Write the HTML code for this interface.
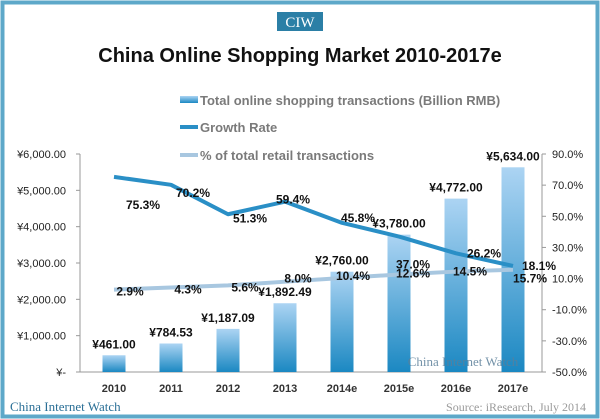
<!DOCTYPE html>
<html><head><meta charset="utf-8"><style>
body{margin:0;background:#fff;}
svg{display:block;font-family:"Liberation Sans",sans-serif;}
</style></head><body>
<svg id="chart" width="600" height="419" viewBox="0 0 600 419">
<defs><linearGradient id="bg" x1="0" y1="0" x2="0" y2="1"><stop offset="0" stop-color="#acd4f3"/><stop offset="1" stop-color="#1b88c2"/></linearGradient></defs>
<rect x="2.5" y="2.5" width="595" height="414" fill="none" stroke="#5ea8c9" stroke-width="4"/>
<rect x="277" y="12" width="46" height="19" fill="#2b7fa6"/>
<text x="300" y="27" text-anchor="middle" fill="#fff" font-family="Liberation Serif,serif" font-size="15">CIW</text>
<text x="300" y="62" text-anchor="middle" font-weight="bold" font-size="20" fill="#111">China Online Shopping Market 2010-2017e</text>
<g font-size="13" font-weight="bold" fill="#7a7a7a">
<rect x="180" y="96" width="18" height="7" fill="url(#bg)"/>
<text x="200" y="105">Total online shopping transactions (Billion RMB)</text>
<rect x="180" y="125" width="18" height="4" fill="#2a8fc6"/>
<text x="200" y="132">Growth Rate</text>
<rect x="180" y="153" width="18" height="4" fill="#a8c7e0"/>
<text x="200" y="160">% of total retail transactions</text>
</g>
<g id="plot"></g>
<text x="463" y="366" text-anchor="middle" font-family="Liberation Serif,serif" font-size="13" fill="#5b7f99" opacity="0.85">China Internet Watch</text>
<text x="10" y="411" font-family="Liberation Serif,serif" font-size="13" fill="#2a6f96">China Internet Watch</text>
<text x="586" y="411" text-anchor="end" font-family="Liberation Serif,serif" font-size="12" fill="#9a9a9a">Source: iResearch, July 2014</text>
</svg>
<script>
const categories=["2010","2011","2012","2013","2014e","2015e","2016e","2017e"];
const transactions=[461.00,784.53,1187.09,1892.49,2760.00,3780.00,4772.00,5634.00];
const transactionLabels=["¥461.00","¥784.53","¥1,187.09","¥1,892.49","¥2,760.00","¥3,780.00","¥4,772.00","¥5,634.00"];
const growth=[75.3,70.2,51.3,59.4,45.8,37.0,26.2,18.1];
const retailShare=[2.9,4.3,5.6,8.0,10.4,12.6,14.5,15.7];
const leftTicks=[0,1000,2000,3000,4000,5000,6000];
const leftTickLabels=["¥-","¥1,000.00","¥2,000.00","¥3,000.00","¥4,000.00","¥5,000.00","¥6,000.00"];
const rightTicks=[-50,-30,-10,10,30,50,70,90];

const NS="http://www.w3.org/2000/svg";
const plot=document.getElementById('plot');
const X0=80,X1=542,Y0=372,Y1=154;
function xC(i){return 114+i*57;}
function yL(v){return Y0-(v/6000)*(Y0-Y1);}
function yR(v){return Y0-((v+50)/140)*(Y0-Y1);}
function mk(tag,attrs,parent){const e=document.createElementNS(NS,tag);for(const k in attrs)e.setAttribute(k,attrs[k]);(parent||plot).appendChild(e);return e;}
const gOff=[[29,28],[22,8],[22,4],[8,-2],[16,-5],[14,28],[28,0],[26,0]];
const rOff=[[16,2],[17,2],[17,2],[13,-3],[11,-2],[14,-1],[14,0],[17,9]];

let a=mk('line',{x1:X0,y1:Y1,x2:X0,y2:Y0,stroke:'#999','stroke-width':1});

a=mk('line',{x1:X1,y1:Y1,x2:X1,y2:Y0,stroke:'#999','stroke-width':1});

a=mk('line',{x1:X0,y1:Y0,x2:X1,y2:Y0,stroke:'#999','stroke-width':1});

leftTicks.forEach((v,i)=>{
  const y=yL(v);
  mk('line',{x1:X0-4,y1:y,x2:X0,y2:y,stroke:'#999'});
  const t=mk('text',{x:X0-14,y:y+4,'text-anchor':'end','font-size':11,fill:'#222'});
  t.textContent=leftTickLabels[i];
  
  
});
rightTicks.forEach(v=>{
  const y=yR(v);
  mk('line',{x1:X1,y1:y,x2:X1+4,y2:y,stroke:'#999'});
  const t=mk('text',{x:X1+10,y:y+4,'font-size':11,fill:'#222'});
  t.textContent=v.toFixed(1)+'%';
  
  
});
categories.forEach((c,i)=>{
  const t=mk('text',{x:xC(i),y:392,'text-anchor':'middle','font-size':11,'font-weight':'bold',fill:'#333'});
  t.textContent=c;
  
  
});
transactions.forEach((v,i)=>{
  const y=yL(v);
  const b=mk('rect',{x:xC(i)-11.5,y:y,width:23,height:Y0-y,fill:'url(#bg)'});
  
  
  const t=mk('text',{x:xC(i),y:y-7,'text-anchor':'middle','font-size':12,'font-weight':'bold',fill:'#111'});
  t.textContent=transactionLabels[i];
  
  
});
function line(vals,color,name){
  const p=mk('polyline',{points:vals.map((v,i)=>xC(i)+','+yR(v)).join(' '),fill:'none',stroke:color,'stroke-width':4,'stroke-linejoin':'round'});
  
  
}
line(retailShare,'#a8c7e0','retail-share-line');
line(growth,'#2a8fc6','growth-rate-line');
growth.forEach((v,i)=>{
  const t=mk('text',{x:xC(i)+gOff[i][0],y:yR(v)+gOff[i][1]+4,'text-anchor':'middle','font-size':12,'font-weight':'bold',fill:'#111'});
  t.textContent=v.toFixed(1)+'%';
  
  
});
retailShare.forEach((v,i)=>{
  const t=mk('text',{x:xC(i)+rOff[i][0],y:yR(v)+rOff[i][1]+4,'text-anchor':'middle','font-size':12,'font-weight':'bold',fill:'#111'});
  t.textContent=v.toFixed(1)+'%';
  
  
});
</script>
</body></html>
